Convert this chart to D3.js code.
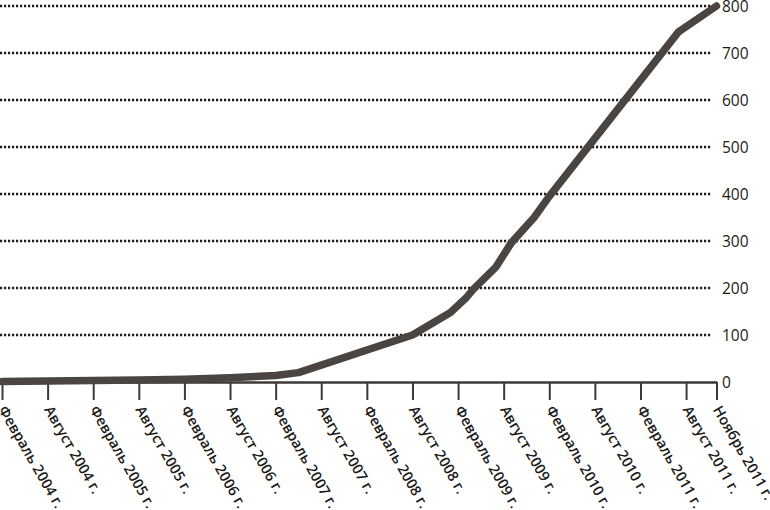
<!DOCTYPE html>
<html>
<head>
<meta charset="utf-8">
<script src="https://cdn.jsdelivr.net/npm/d3@7"></script>
<style>
  html, body { margin: 0; padding: 0; background: #fff; }
  svg { display: block; }
  text { font-family: "Open Sans", sans-serif; fill: #1c1a18; }
</style>
</head>
<body>
<svg id="chart" width="770" height="510"></svg>
<script>
// Months since February 2004 (tick positions along the time axis)
const tickMonths = [0, 6, 12, 18, 24, 30, 36, 42, 48, 54, 60, 66, 72, 78, 84, 90, 94];
const tickLabels = [
  "Февраль 2004 г.", "Август 2004 г.", "Февраль 2005 г.", "Август 2005 г.",
  "Февраль 2006 г.", "Август 2006 г.", "Февраль 2007 г.", "Август 2007 г.",
  "Февраль 2008 г.", "Август 2008 г.", "Февраль 2009 г.", "Август 2009 г.",
  "Февраль 2010 г.", "Август 2010 г.", "Февраль 2011 г.", "Август 2011 г.",
  "Ноябрь 2011 г."
];
// Series: month offset and value
const seriesMonths = [0, 6, 12, 18, 24, 30, 36, 39, 54, 59, 61, 62, 65, 67, 70, 72, 89, 94];
const seriesValues = [1, 2, 3, 4, 6, 9, 14, 20, 100, 148, 178, 197, 245, 296, 350, 395, 745, 800];
const yTicks = [0, 100, 200, 300, 400, 500, 600, 700, 800];

const svg = d3.select("#chart");
const x = d3.scaleLinear().domain([0, 94]).range([2, 716.5]);
const y = d3.scaleLinear().domain([0, 800]).range([382, 6]);

// Dotted gridlines
svg.append("g")
  .selectAll("line")
  .data(yTicks.filter(d => d > 0))
  .join("line")
  .attr("x1", 0).attr("x2", 712)
  .attr("y1", d => y(d)).attr("y2", d => y(d))
  .attr("stroke", "#1f1b17")
  .attr("stroke-width", 2.4)
  .attr("stroke-dasharray", "2.2,1.8");

// Right axis labels
const yAxis = d3.axisRight(y).tickValues(yTicks).tickSize(0).tickPadding(0);
const gy = svg.append("g").attr("transform", "translate(722,0)").call(yAxis);
gy.select(".domain").remove();
gy.selectAll("text")
  .style("font-family", "'Open Sans', sans-serif")
  .style("font-size", "15.5px")
  .style("font-weight", "500")
  .attr("fill", "#1c1a18")
  .attr("dy", "0.36em");

// X axis
const xAxis = d3.axisBottom(x).tickValues(tickMonths)
  .tickFormat((d, i) => tickLabels[i]).tickSize(18).tickSizeOuter(0);
const gx = svg.append("g").attr("transform", "translate(0,382)").call(xAxis);
gx.select(".domain").attr("stroke", "#3d3934").attr("stroke-width", 2.4);
gx.selectAll(".tick line").attr("stroke", "#3d3934").attr("stroke-width", 2);
gx.selectAll(".tick text")
  .style("font-family", "'Open Sans', sans-serif")
  .style("font-size", "14.5px")
  .style("font-weight", "600")
  .attr("fill", "#1c1a18")
  .attr("text-anchor", "start")
  .attr("x", 0).attr("y", 0).attr("dy", "0.35em")
  .attr("transform", "translate(0,25) rotate(60)");

// Line
const line = d3.line()
  .x((d, i) => x(seriesMonths[i]))
  .y(d => y(d));
svg.append("path")
  .datum(seriesValues)
  .attr("d", line)
  .attr("fill", "none")
  .attr("stroke", "#4a4540")
  .attr("stroke-width", 7.5)
  .attr("stroke-linejoin", "round")
  .attr("stroke-linecap", "round");
</script>
</body>
</html>
